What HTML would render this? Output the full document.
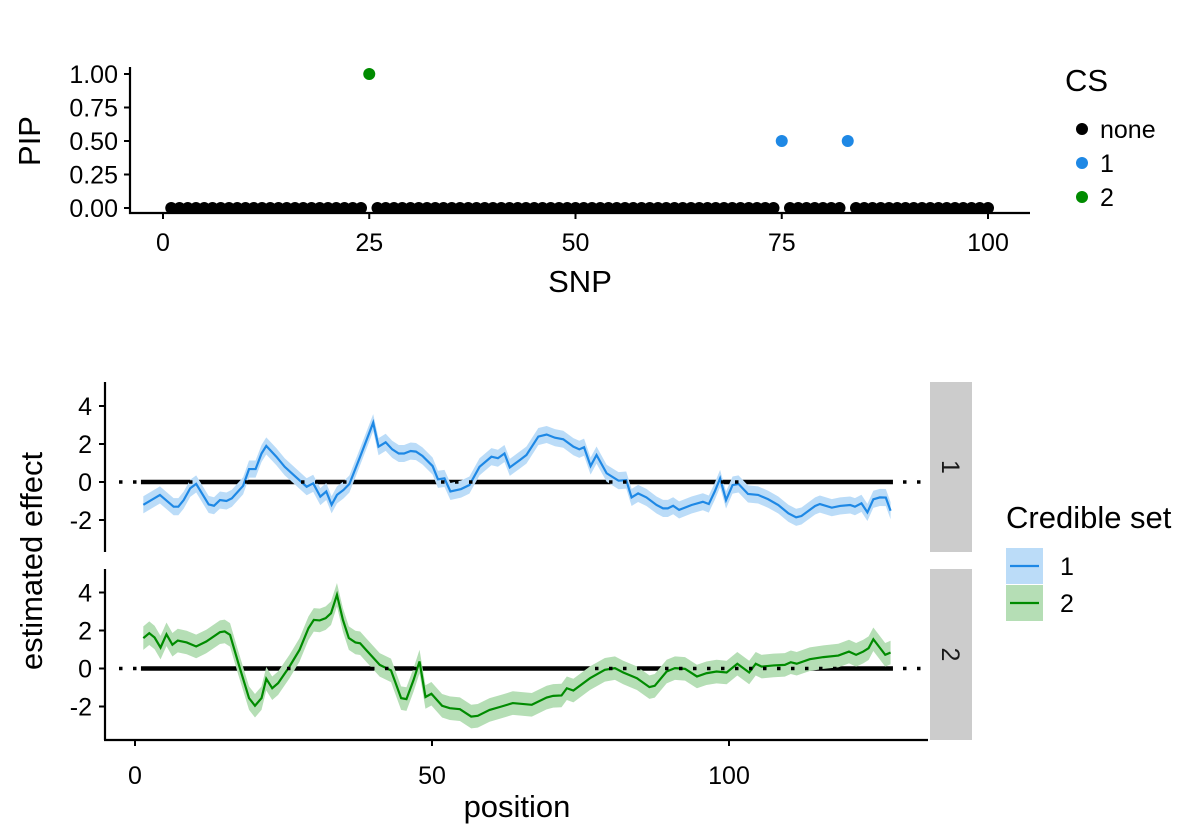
<!DOCTYPE html>
<html><head><meta charset="utf-8"><style>
body{margin:0;background:#fff;}
svg{display:block;font-family:"Liberation Sans",Arial,sans-serif;}
</style></head><body>
<svg id="chart" width="1200" height="840" viewBox="0 0 1200 840"></svg>
<script>
const snpIndex = Array.from({length:100},(_,i)=>i+1);
const pipValues = snpIndex.map(i => i===25 ? 1 : (i===75||i===83 ? 0.5 : 0));
const pipCS = snpIndex.map(i => i===25 ? '2' : (i===75||i===83 ? '1' : 'none'));
const pipYTicks = [0,0.25,0.5,0.75,1];
const pipYLabels = ['0.00','0.25','0.50','0.75','1.00'];
const snpXTicks = [0,25,50,75,100];
const posXTicks = [0,50,100];
const effYTicks = [-2,0,2,4];
const blueX = [1.4,4.2,6.5,7.3,8.2,9.3,10.3,12.4,13.3,14.3,15.4,16.3,18.2,19.2,20.3,21.3,22.1,23.8,25.2,26.4,28.9,30.0,31.2,32.2,33.1,34.0,35.1,36.1,37.9,40.1,41.0,42.2,43.3,44.4,45.3,46.4,47.3,48.4,50.1,51.0,52.1,53.1,54.9,56.3,58.0,60.0,61.1,62.2,63.1,64.8,65.9,67.9,69.3,70.7,72.1,73.8,74.8,75.6,76.7,77.7,79.4,81.4,82.7,83.6,84.7,86.1,87.8,88.9,89.7,90.6,91.6,93.7,95.6,96.6,97.6,98.5,99.5,100.6,101.6,103.2,104.9,106.6,108.3,110.0,111.3,112.2,114.5,115.3,117.3,118.7,120.4,121.2,122.3,123.3,124.3,125.4,126.4,127.2];
const blueY = [-1.2,-0.68,-1.3,-1.3,-0.95,-0.33,-0.1,-1.18,-1.25,-0.95,-1.0,-0.86,-0.2,0.68,0.68,1.5,1.9,1.33,0.8,0.46,-0.25,-0.07,-0.77,-0.5,-1.2,-0.68,-0.42,-0.1,1.33,3.12,1.86,2.09,1.72,1.5,1.5,1.63,1.6,1.37,0.84,0.14,0.19,-0.5,-0.37,-0.16,0.8,1.33,1.25,1.5,0.77,1.16,1.42,2.39,2.5,2.33,2.25,1.86,1.72,1.83,0.84,1.42,0.46,0.07,0.1,-0.81,-0.6,-0.81,-1.21,-1.39,-1.39,-1.25,-1.47,-1.21,-1.04,-1.16,-0.5,0.19,-0.95,-0.16,-0.1,-0.63,-0.68,-0.91,-1.21,-1.65,-1.86,-1.79,-1.26,-1.16,-1.35,-1.26,-1.21,-1.3,-1.12,-1.6,-0.91,-0.81,-0.82,-1.51];
const greenX = [1.4,2.4,3.3,4.3,5.3,6.3,7.2,8.7,10.3,12.0,14.3,15.1,16.0,17.4,19.2,20.2,21.3,22.1,23.1,24.1,26.0,27.7,29.2,30.1,31.1,32.1,33.0,34.0,35.0,36.0,37.1,37.9,38.9,41.2,43.1,44.8,45.7,46.9,47.9,48.9,49.9,51.7,53.0,54.7,56.6,57.7,59.7,61.7,63.6,66.8,69.3,70.4,71.8,72.7,73.8,76.6,79.1,80.8,82.2,84.5,86.6,87.5,89.5,90.9,92.6,94.6,96.2,97.9,99.6,101.4,103.4,104.5,105.5,107.5,109.4,110.4,111.4,113.6,115.9,118.4,120.2,121.4,122.6,123.5,124.3,126.3,127.2];
const greenY = [1.6,1.86,1.63,1.1,1.8,1.25,1.47,1.37,1.16,1.42,1.91,1.95,1.77,0.28,-1.56,-1.96,-1.56,-0.54,-1.04,-0.77,0.1,0.98,2.12,2.56,2.53,2.65,2.91,3.88,2.56,1.6,1.37,1.33,0.98,0.19,-0.1,-1.56,-1.61,-0.6,0.37,-1.5,-1.33,-1.96,-2.09,-2.14,-2.53,-2.49,-2.18,-2.0,-1.82,-1.91,-1.53,-1.44,-1.42,-1.04,-1.16,-0.51,-0.07,0.02,-0.21,-0.51,-0.98,-0.91,-0.16,0.02,-0.02,-0.42,-0.25,-0.16,-0.21,0.25,-0.21,0.25,0.1,0.16,0.19,0.33,0.25,0.49,0.6,0.68,0.89,0.72,0.89,1.07,1.54,0.72,0.84];
const blueSE = 0.45;
const greenSE = 0.62;
const trueStart = 1.0, trueEnd = 127.6;

const NS='http://www.w3.org/2000/svg';
const svg=document.getElementById('chart');
function mk(tag,attrs,parent,text){const e=document.createElementNS(NS,tag);for(const k in attrs)e.setAttribute(k,attrs[k]);if(text!==undefined)e.textContent=text;(parent||svg).appendChild(e);return e;}
const TF=25, TT=31;

const sx = v => 163 + v*8.25;
const sy = v => 208 - v*134;
const topG = mk('g',{});


const ax1=mk('path',{d:'M130 67 V213 H1030',stroke:'#000','stroke-width':2.2,fill:'none'},topG);


pipYTicks.forEach((t,i)=>{
  mk('line',{x1:124,x2:130,y1:sy(t),y2:sy(t),stroke:'#000','stroke-width':2},topG);
  const l=mk('text',{x:118,y:sy(t)+9,'text-anchor':'end','font-size':TF},topG,pipYLabels[i]);
  
  
});
snpXTicks.forEach(t=>{
  mk('line',{x1:sx(t),x2:sx(t),y1:213,y2:219,stroke:'#000','stroke-width':2},topG);
  const l=mk('text',{x:sx(t),y:251,'text-anchor':'middle','font-size':TF},topG,String(t));
  
  
});
const csCol={none:'#000','1':'#1E88E5','2':'#008B00'};
snpIndex.forEach((s,i)=>{
  const c=mk('circle',{cx:sx(s),cy:sy(pipValues[i]),r:6,fill:csCol[pipCS[i]]},topG);
  
  
});
let t=mk('text',{x:580,y:292,'text-anchor':'middle','font-size':TT},topG,'SNP');

t=mk('text',{x:0,y:0,'text-anchor':'middle','font-size':TT,transform:'translate(40 141) rotate(-90)'},topG,'PIP');

t=mk('text',{x:1065,y:91,'font-size':TT},topG,'CS');

['none','1','2'].forEach((k,i)=>{
  const g=mk('g',{},topG);
  
  
  mk('circle',{cx:1082,cy:129+i*34,r:6,fill:csCol[k]},g);
  mk('text',{x:1100,y:138+i*34,'font-size':TF},g,k);
});

const px = v => 135 + v*5.94;
const panels=[{y0:482,xs:blueX,ys:blueY,se:blueSE,line:'#1E88E5',rib:'#bbdcf8',name:'cs1',y1:382,y2:552,lab:'1'},
              {y0:668.5,xs:greenX,ys:greenY,se:greenSE,line:'#008B00',rib:'#b5deb5',name:'cs2',y1:569,y2:740,lab:'2'}];
panels.forEach(p=>{
  const py=v=>p.y0 - v*19;
  const g=mk('g',{});
  
  
  mk('line',{x1:105,x2:105,y1:p.y1,y2:p.y2,stroke:'#000','stroke-width':2.2},g);
  effYTicks.forEach(tk=>{
    mk('line',{x1:99,x2:105,y1:py(tk),y2:py(tk),stroke:'#000','stroke-width':2},g);
    const l=mk('text',{x:92,y:py(tk)+9,'text-anchor':'end','font-size':TF},g,String(tk));
    
    
  });
  const tl=mk('line',{x1:px(trueStart),x2:px(trueEnd),y1:py(0),y2:py(0),stroke:'#000','stroke-width':4.5},g);
  
  
  let up=p.xs.map((x,i)=>px(x)+','+py(p.ys[i]+p.se));
  let dn=p.xs.map((x,i)=>px(x)+','+py(p.ys[i]-p.se)).reverse();
  const rb=mk('polygon',{points:up.concat(dn).join(' '),fill:p.rib},g);
  
  
  const ln=mk('polyline',{points:p.xs.map((x,i)=>px(x)+','+py(p.ys[i])).join(' '),fill:'none',stroke:p.line,'stroke-width':2.2},g);
  
  
  const dl=mk('line',{x1:119,x2:922,y1:py(0),y2:py(0),stroke:'#000','stroke-width':3.5,'stroke-dasharray':'3.5 10.5'},g);
  
  
  const st=mk('rect',{x:930,y:p.y1,width:42,height:p.y2-p.y1,fill:'#cccccc'},g);
  
  
  const cy=(p.y1+p.y2)/2;
  mk('text',{x:0,y:0,'text-anchor':'middle','font-size':TF,fill:'#1a1a1a',transform:`translate(942 ${cy}) rotate(90)`},g,p.lab);
});
mk('line',{x1:104,x2:928,y1:740,y2:740,stroke:'#000','stroke-width':2.2});
posXTicks.forEach(tk=>{
  mk('line',{x1:px(tk),x2:px(tk),y1:740,y2:746,stroke:'#000','stroke-width':2});
  const l=mk('text',{x:px(tk),y:784,'text-anchor':'middle','font-size':TF},svg,String(tk));
  
  
});
t=mk('text',{x:517,y:817,'text-anchor':'middle','font-size':TT},svg,'position');

t=mk('text',{x:0,y:0,'text-anchor':'middle','font-size':TT,transform:'translate(42 561) rotate(-90)'},svg,'estimated effect');

t=mk('text',{x:1006,y:528,'font-size':TT},svg,'Credible set');

panels.forEach((p,i)=>{
  const g=mk('g',{});
  
  
  const y=548+i*37;
  mk('rect',{x:1006,y:y,width:37,height:36,fill:p.rib},g);
  mk('line',{x1:1010,x2:1039,y1:y+18,y2:y+18,stroke:p.line,'stroke-width':2.2},g);
  mk('text',{x:1060,y:y+27,'font-size':TF},g,p.lab);
});
</script>
</body></html>
